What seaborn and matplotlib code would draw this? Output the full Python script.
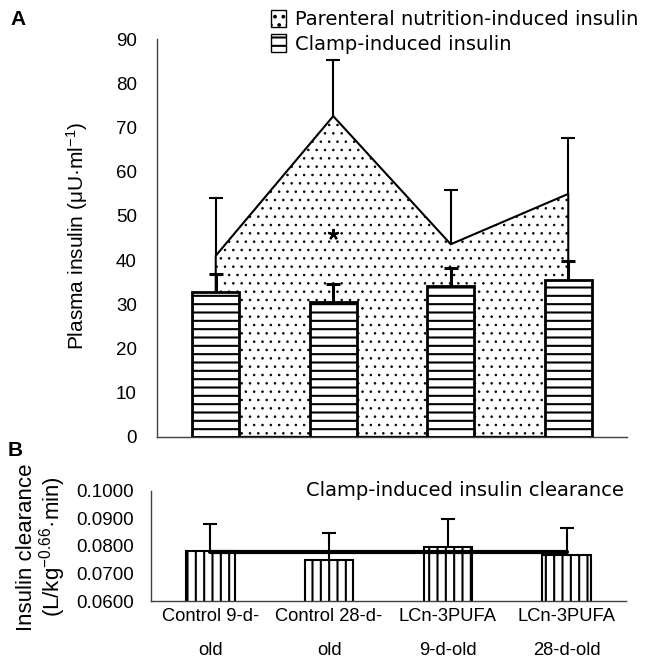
import matplotlib
matplotlib.use('Agg')
import matplotlib.pyplot as plt
import seaborn as sns
import pandas as pd
import numpy as np
from matplotlib.patches import Patch

groups = ['Control 9-d-\nold', 'Control 28-d-\nold', 'LCn-3PUFA\n9-d-old', 'LCn-3PUFA\n28-d-old']
clamp_insulin = [32.9, 30.5, 34.2, 35.5]
clamp_insulin_err = [4.0, 4.0, 4.1, 4.2]
pn_insulin = [41.0, 72.6, 43.6, 55.0]
pn_insulin_err = [13.1, 12.6, 12.2, 12.6]
clearance = [0.0782, 0.0749, 0.0797, 0.0766]
clearance_err = [0.0098, 0.0098, 0.0101, 0.0098]
clearance_mean = 0.0777
sig_group, sig_y = 1, 46

sns.set_style('white')
plt.rcParams['font.family'] = ['Liberation Sans', 'DejaVu Sans']
plt.rcParams['mathtext.default'] = 'regular'
plt.rcParams['hatch.linewidth'] = 1.5
for k in ['text.color', 'axes.labelcolor', 'xtick.labelcolor', 'ytick.labelcolor']:
    plt.rcParams[k] = 'black'

df = pd.DataFrame({'group': groups, 'clamp': clamp_insulin, 'clearance': clearance})
pos = np.arange(len(groups))
axis_col = '#404040'


def up_errorbars(ax, vals, errs, lw, cap_ms, z):
    # only the upper half of the error bar, with a cap on top
    vals, errs = np.asarray(vals), np.asarray(errs)
    ax.vlines(pos, vals, vals + errs, color='black', lw=lw, zorder=z)
    ax.plot(pos, vals + errs, ls='none', marker='_', ms=cap_ms, mew=lw,
            color='black', zorder=z)


fig = plt.figure(figsize=(6.46, 6.65), dpi=100)
axA = fig.add_axes([0.243, 0.343, 0.7276, 0.598])
axB = fig.add_axes([0.2337, 0.0962, 0.7353, 0.1655])

# Panel A: area for parenteral nutrition insulin + clamp bars
with plt.rc_context({'hatch.linewidth': 0.6}):
    area = axA.fill_between(pos, pn_insulin, 0, facecolor='white', edgecolor='black',
                            hatch='..', linewidth=1.5, zorder=1)
if hasattr(area, 'set_hatch_linewidth'):
    area.set_hatch_linewidth(0.6)
up_errorbars(axA, pn_insulin, pn_insulin_err, 1.5, 10, 2)
sns.barplot(data=df, x='group', y='clamp', ax=axA, color='white', saturation=1,
            edgecolor='black', linewidth=2, hatch='--', width=0.4, errorbar=None, zorder=3)
up_errorbars(axA, clamp_insulin, clamp_insulin_err, 2.2, 10, 4)
axA.plot(sig_group, sig_y, ls='none', marker=(5, 2, 0), ms=8, mew=1.6, color='black', zorder=5)

axA.set_xlim(-0.5, 3.5)
axA.set_ylim(0, 90)
axA.set_yticks(range(0, 91, 10))
axA.set_xticks([-0.5, 0.5, 1.5, 2.5, 3.5])
axA.set_xticklabels([])
axA.set_xlabel('')
axA.set_ylabel('')
axA.tick_params(axis='y', direction='inout', length=11, width=1, color=axis_col,
                labelsize=13.5, pad=9)
axA.tick_params(axis='x', direction='inout', length=9, width=1, color=axis_col)
sns.despine(ax=axA)
for s in ['left', 'bottom']:
    axA.spines[s].set_color(axis_col)
    axA.spines[s].set_linewidth(1)

# Panel B: clearance bars
sns.barplot(data=df, x='group', y='clearance', ax=axB, color='white', saturation=1,
            edgecolor='black', linewidth=1.5, hatch='||', width=0.41, errorbar=None, zorder=2)
up_errorbars(axB, clearance, clearance_err, 1.5, 10, 3)
axB.plot([pos[0], pos[-1]], [clearance_mean, clearance_mean], color='black', lw=3, zorder=4)
axB.set_xlim(-0.5, 3.5)
axB.set_ylim(0.06, 0.10)
axB.set_yticks([0.06, 0.07, 0.08, 0.09, 0.10])
axB.set_yticklabels(['0.0600', '0.0700', '0.0800', '0.0900', '0.1000'])
axB.set_xticks([-0.5, 0.5, 1.5, 2.5, 3.5])
axB.set_xticklabels([])
axB.set_xticks(pos, minor=True)
axB.set_xticklabels(groups, minor=True, fontsize=13.2, linespacing=2.3)
axB.set_xlabel('')
axB.set_ylabel('')
axB.tick_params(axis='y', direction='out', length=6, width=1, color=axis_col,
                labelsize=13.5, pad=6)
axB.tick_params(axis='x', which='major', direction='out', length=6, width=1, color=axis_col)
axB.tick_params(axis='x', which='minor', length=0, pad=5)
sns.despine(ax=axB)
for s in ['left', 'bottom']:
    axB.spines[s].set_color(axis_col)
    axB.spines[s].set_linewidth(1)
axB.text(0.995, 1.0, 'Clamp-induced insulin clearance', transform=axB.transAxes,
         ha='right', va='center', fontsize=14, family='DejaVu Sans')

# labels
fig.text(77 / 646, 1 - 236 / 665, 'Plasma insulin (μU·ml$^{-1}$)', rotation=90,
         ha='center', va='center', fontsize=15)
fig.text(42 / 646, 1 - 547 / 665, 'Insulin clearance\n(L/kg$^{-0.66}$·min)', rotation=90,
         ha='center', va='center', fontsize=16, multialignment='center', linespacing=1.0)
fig.text(10 / 646, 1 - 10 / 665, 'A', fontsize=15, fontweight='bold', va='top')
fig.text(8 / 646, 1 - 441 / 665, 'B', fontsize=15, fontweight='bold', va='top')

with plt.rc_context({'hatch.linewidth': 1.0}):
    handles = [Patch(facecolor='white', edgecolor='black', hatch='..', linewidth=1),
               Patch(facecolor='white', edgecolor='black', hatch='--', linewidth=1)]
fig.legend(handles, ['Parenteral nutrition-induced insulin', 'Clamp-induced insulin'],
           loc='upper left', bbox_to_anchor=(271 / 646, 1 - 10 / 665), frameon=False,
           handlelength=0.75, handleheight=1.0, handletextpad=0.5, borderpad=0,
           borderaxespad=0, labelspacing=0.25, prop={'family': 'DejaVu Sans', 'size': 14})

fig.savefig('out.png', dpi=100)
